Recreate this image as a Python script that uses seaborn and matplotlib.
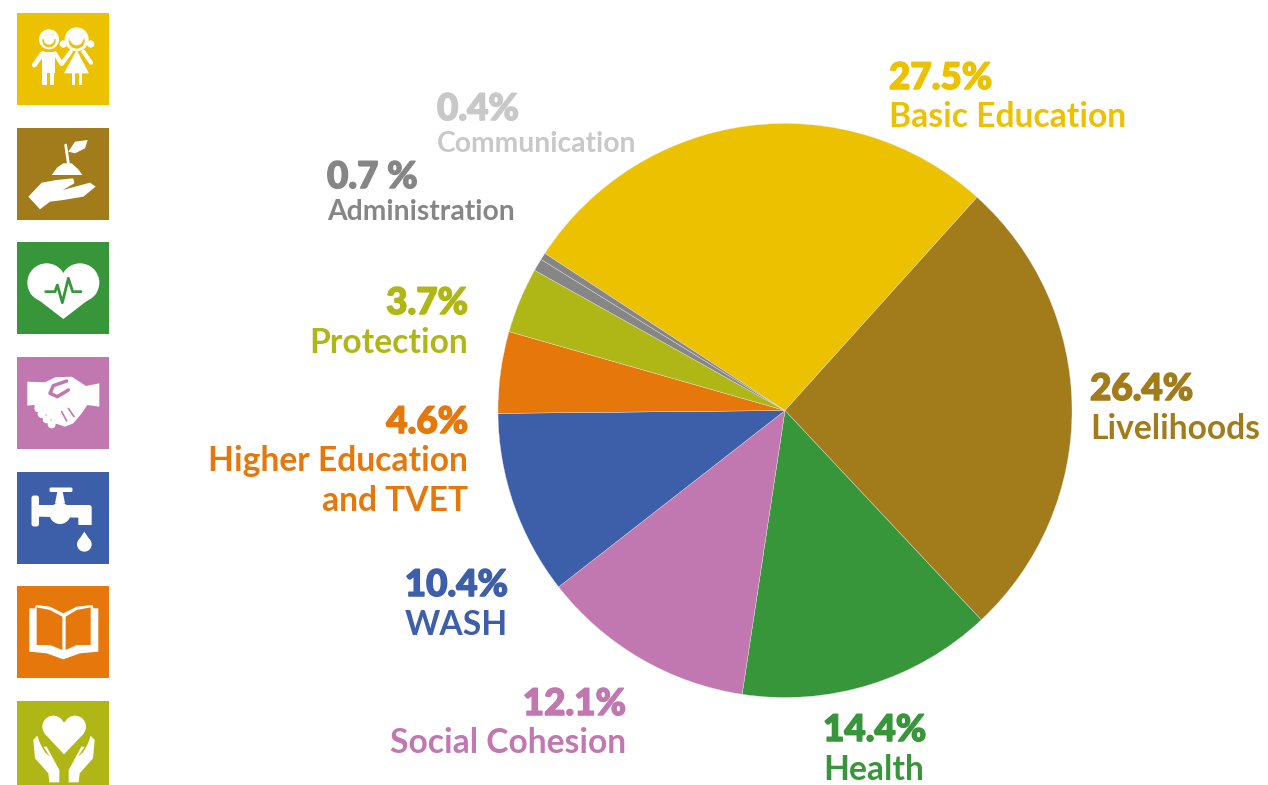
import matplotlib
matplotlib.use("Agg")
import matplotlib.pyplot as plt
import matplotlib.patheffects as pe
import seaborn as sns
from matplotlib.patches import Rectangle, Circle, Polygon, FancyBboxPatch

categories = ["Basic Education", "Livelihoods", "Health", "Social Cohesion", "WASH",
              "Higher Education", "Protection", "Administration", "Communication"]
shares = [27.5, 26.4, 14.4, 12.1, 10.4, 4.6, 3.7, 0.7, 0.4]
pct_labels = ["27.5%", "26.4%", "14.4%", "12.1%", "10.4%", "4.6%", "3.7%", "0.7 %", "0.4%"]
name_labels = ["Basic Education", "Livelihoods", "Health", "Social Cohesion", "WASH",
               "Higher Education\nand TVET", "Protection", "Administration", "Communication"]
slice_colors = ["#ECC100", "#A27B1A", "#379639", "#C178B0", "#3D5EA8",
                "#E6770A", "#AFB716", "#868686", "#868686"]
text_colors = slice_colors[:8] + ["#C8C8C8"]

W, H = 1268, 785
sns.set_theme(style="white")
plt.rcParams["font.family"] = ["Lato", "DejaVu Sans"]
fig = plt.figure(figsize=(W / 100, H / 100), dpi=100)

# pie: centre 785,410 radius 287
ax = fig.add_axes([(785 - 287) / W, 1 - (410.5 + 287) / H, 574 / W, 574 / H])
ax.pie(shares, colors=sns.color_palette(slice_colors), startangle=146.8, counterclock=False,
       radius=1, wedgeprops=dict(linewidth=0.25, edgecolor="#e8e8e8"))
ax.set_xlim(-1, 1)
ax.set_ylim(-1, 1)

# overlay in pixel coordinates for labels and icons
ov = fig.add_axes([0, 0, 1, 1], zorder=5)
ov.set_xlim(0, W)
ov.set_ylim(H, 0)
ov.axis("off")
ov.patch.set_alpha(0)

# x, pct y, name y, align
label_pos = [(889, 75, 114, "left"), (1090, 386, 426, "left"), (823, 727, 767, "left"),
             (626, 701, 740, "right"), (508, 582, 622, "right"), (468, 419, 474, "right"),
             (468, 300, 340, "right"), (327, 174, 209, "left"), (437, 106, 141, "left")]
for i, (x, yp, yn, ha) in enumerate(label_pos):
    t = ov.text(x, yp, pct_labels[i], color=text_colors[i], fontsize=26.5, weight=900,
                ha=ha, va="center_baseline")
    t.set_path_effects([pe.withStroke(linewidth=1.1, foreground=text_colors[i])])
    ov.text(x, yn, name_labels[i], color=text_colors[i], fontsize=24.2 if i < 7 else 20.3, weight="bold",
            ha=ha, va="center_baseline", linespacing=1.3)


def z(points, oy=0):
    return [(px / 3, py / 3 + oy) for px, py in points]


def poly(points, c="white", oy=0):
    ov.add_patch(Polygon(z(points, oy), color=c, lw=0))


def disc(px, py, r, c="white", oy=0):
    ov.add_patch(Circle((px / 3, py / 3 + oy), r / 3, color=c, lw=0))


def line(points, c="white", lw=3, oy=0):
    pts = z(points, oy)
    ov.plot([p[0] for p in pts], [p[1] for p in pts], color=c, lw=lw, solid_capstyle="round")


tile_y = [13, 128, 242, 357, 472, 586, 701]
for y, c in zip(tile_y, slice_colors[:7]):
    ov.add_patch(Rectangle((17, y), 92, 92, color=c, lw=0))

# children
yellow = slice_colors[0]
disc(147, 118, 30)
disc(230, 118, 36)
disc(190, 132, 11)
disc(272, 132, 11)
disc(147, 122, 20, yellow)
disc(230, 122, 24, yellow)
poly([(120, 108), (170, 108), (170, 118), (120, 118)])
poly([(208, 105), (252, 105), (252, 118), (208, 122)])
disc(147, 118, 16)
disc(230, 116, 20)
poly([(127, 155), (165, 155), (165, 218), (127, 218)])
poly([(127, 215), (140, 215), (140, 255), (127, 255)])
poly([(150, 215), (163, 215), (163, 255), (150, 255)])
poly([(230, 150), (192, 220), (267, 220)])
poly([(215, 218), (226, 218), (226, 255), (215, 255)])
poly([(236, 218), (247, 218), (247, 255), (236, 255)])
line([(128, 160), (103, 195)], lw=3.5)
line([(165, 160), (185, 192), (212, 155)], lw=3)
line([(250, 155), (273, 188)], lw=3)

# hand and seedling
poly([(85, 590), (125, 548), (170, 540), (220, 535), (223, 550), (188, 570), (270, 548), (287, 560),
      (250, 590), (190, 600), (150, 605), (120, 628)])
poly([(155, 525), (172, 502), (190, 490), (215, 490), (235, 508), (247, 525)])
line([(197, 435), (205, 490)], lw=2)
poly([(205, 455), (225, 425), (263, 420), (255, 445), (225, 460)])

# heart with pulse
disc(140, 848, 58)
disc(240, 848, 58)
poly([(90, 880), (190, 957), (290, 880), (190, 830)])
line([(137, 875), (165, 875), (172, 855), (187, 908), (205, 835), (218, 875), (243, 875)],
     c=slice_colors[2], lw=2)

# handshake
pink = slice_colors[3]
poly([(82, 110), (135, 112), (165, 97), (215, 95), (258, 123), (298, 115), (298, 185), (262, 180),
      (245, 205), (220, 235), (195, 245), (165, 235), (120, 190), (100, 180), (82, 182)], oy=345)
for px, py in [(115, 190), (125, 207), (140, 223), (155, 238)]:
    disc(px, py, 12, oy=345)
line([(200, 108), (160, 122), (150, 145), (172, 155), (205, 135)], c=pink, lw=2.5, oy=345)
line([(185, 200), (200, 228)], c=pink, lw=1.2, oy=345)
line([(205, 190), (222, 215)], c=pink, lw=1.2, oy=345)

# tap
ov.add_patch(FancyBboxPatch((34, 498), 2.5, 26, boxstyle="round,pad=2.5", color="white", lw=0))
poly([(115, 480), (270, 480), (275, 485), (275, 540), (235, 540), (235, 518), (115, 515)], oy=345)
disc(180, 505, 32, oy=345)
poly([(172, 440), (188, 440), (195, 475), (165, 475)], oy=345)
ov.add_patch(FancyBboxPatch((51, 489), 20, 1.5, boxstyle="round,pad=1.5", color="white", lw=0))
disc(253, 598, 22, oy=345)
poly([(233, 590), (253, 560), (273, 590)], oy=345)

# book
orange = slice_colors[5]
poly([(88, 790), (105, 790), (108, 780), (150, 785), (190, 805), (230, 785), (278, 780), (280, 790), (295, 790),
      (295, 920), (240, 925), (190, 943), (140, 925), (88, 920)], oy=345)
poly([(110, 787), (150, 795), (187, 815), (187, 915), (150, 900), (110, 900)], c=orange, oy=345)
poly([(197, 815), (230, 795), (272, 787), (272, 900), (230, 900), (197, 915)], c=orange, oy=345)

# hands with heart
disc(160, 1145, 33, oy=345)
disc(225, 1145, 33, oy=345)
poly([(133, 1165), (192, 1228), (252, 1165), (192, 1130)], oy=345)
left = [(100, 1185), (112, 1172), (120, 1195), (135, 1222), (150, 1235), (130, 1205), (140, 1205), (178, 1275),
        (178, 1312), (148, 1312), (145, 1285), (105, 1240)]
poly(left, oy=345)
poly([(384 - px, py) for px, py in left], oy=345)

fig.savefig("out.png", dpi=100, facecolor="white")
